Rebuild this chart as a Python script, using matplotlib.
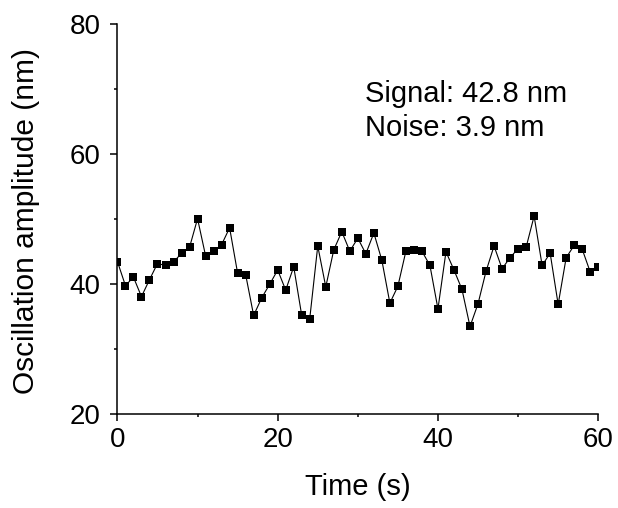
import numpy as np
import matplotlib
matplotlib.use("Agg")
import matplotlib.pyplot as plt
from matplotlib.ticker import MultipleLocator

plt.rcParams['font.family'] = ['Liberation Sans', 'DejaVu Sans']

# Time in seconds, amplitude in nm
time_s = list(range(0, 61))
amplitude_nm = [
    43.4, 39.7, 41.0, 38.0, 40.6, 43.1, 42.8, 43.3, 44.7, 45.6,
    50.0, 44.3, 45.0, 46.0, 48.6, 41.6, 41.4, 35.1, 37.8, 39.9,
    42.1, 39.0, 42.6, 35.1, 34.6, 45.8, 39.5, 45.2, 48.0, 45.0,
    47.0, 44.6, 47.8, 43.6, 37.0, 39.6, 45.0, 45.2, 45.0, 42.8,
    36.1, 44.9, 42.1, 39.1, 33.4, 36.9, 41.9, 45.8, 42.3, 44.0,
    45.4, 45.6, 50.4, 42.8, 44.7, 36.8, 44.0, 45.9, 45.3, 41.8,
    42.5,
]
notes = ["Signal: 42.8 nm", "Noise: 3.9 nm"]

fig = plt.figure(figsize=(6.18, 5.08), dpi=100)
ax = fig.add_axes([0.190, 0.186, 0.778, 0.767])

ax.plot(time_s, amplitude_nm, color='black', lw=0.8,
        marker='s', markersize=6, markerfacecolor='black', markeredgewidth=0)

ax.set_xlim(0, 60)
ax.set_ylim(20, 80)
ax.xaxis.set_major_locator(MultipleLocator(20))
ax.xaxis.set_minor_locator(MultipleLocator(10))
ax.yaxis.set_major_locator(MultipleLocator(20))
ax.yaxis.set_minor_locator(MultipleLocator(10))

for side in ['top', 'right']:
    ax.spines[side].set_visible(False)
for side in ['left', 'bottom']:
    ax.spines[side].set_linewidth(1.1)

ax.tick_params(which='major', direction='out', length=5, width=1.1,
               labelsize=20, pad=5)
ax.tick_params(axis='y', which='major', pad=7)
ax.tick_params(which='minor', direction='out', length=2.5, width=1.1)

ax.set_xlabel('Time (s)', fontsize=21)
ax.set_ylabel('Oscillation amplitude (nm)', fontsize=21.5)
ax.xaxis.set_label_coords(0.5, -0.153)
ax.yaxis.set_label_coords(-0.16, 0.494)
ax.xaxis.label.set_va('top')

ax.text(0.515, 0.776, notes[0] + "\n" + notes[1], transform=ax.transAxes,
        fontsize=21, linespacing=1.3, va='center', ha='left')

fig.savefig('out.png', dpi=100)
